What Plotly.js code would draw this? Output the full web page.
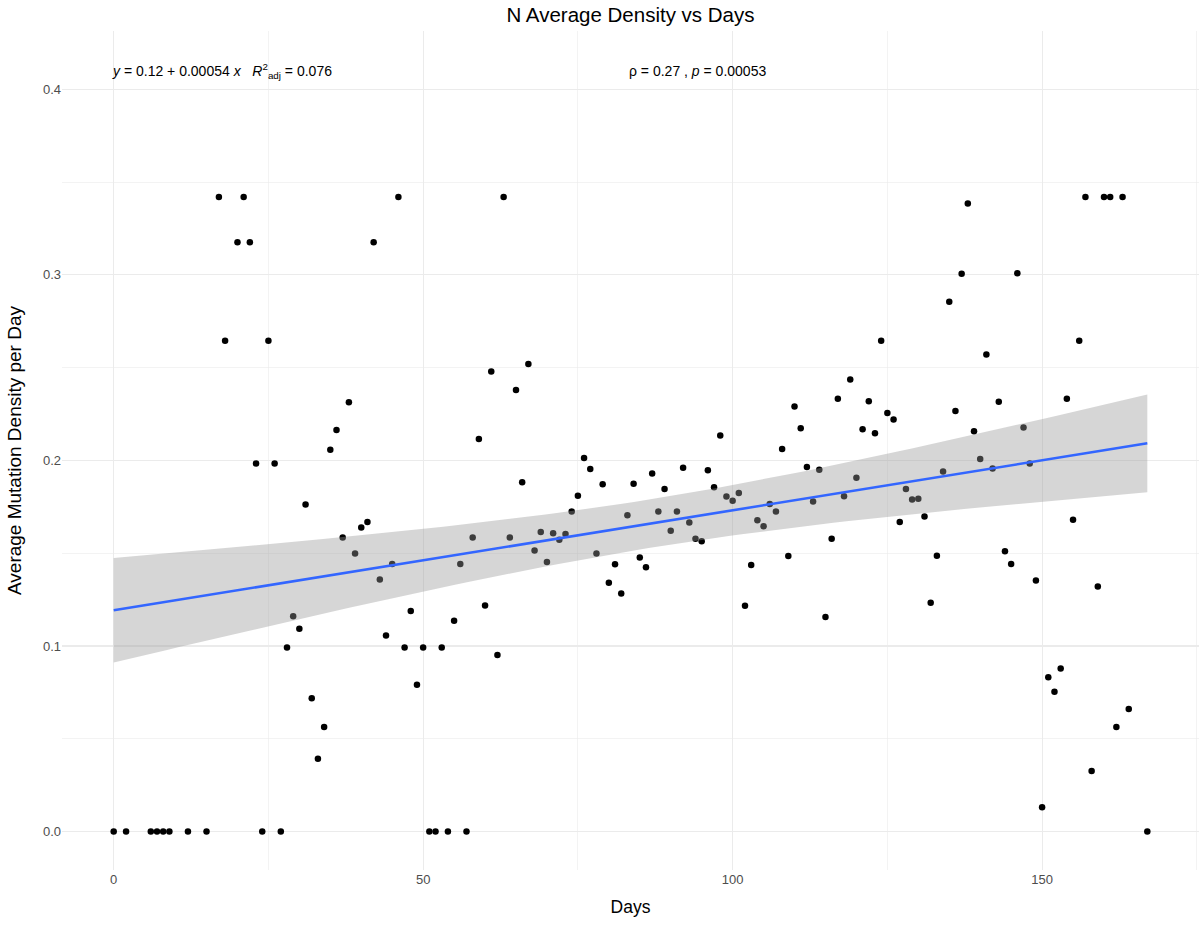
<!DOCTYPE html>
<html>
<head>
<meta charset="utf-8">
<script src="https://cdn.plot.ly/plotly-3.0.1.min.js"></script>
<style>html,body{margin:0;padding:0;background:#fff;}#chart{width:1199px;height:927px;}</style>
</head>
<body>
<div id="chart"></div>
<script>
const days = [0,2,6,7,8,9,12,15,17,18,
  20,21,22,23,24,25,26,27,28,29,30,31,32,33,34,35,36,37,38,39,40,41,42,43,44,45,46,47,48,49,
  50,51,52,53,54,55,56,57,58,59,60,61,62,63,64,65,66,67,68,69,70,71,72,73,74,75,76,77,78,79,
  80,81,82,83,84,85,86,87,88,89,90,91,92,93,94,95,96,97,98,99,100,101,102,103,104,105,106,107,108,109,
  110,111,112,113,114,115,116,117,118,119,120,121,122,123,124,125,126,127,128,129,130,131,132,133,134,135,136,137,138,139,
  140,141,142,143,144,145,146,147,148,149,150,151,152,153,154,155,156,157,158,159,160,161,162,163,164,167];

const density = [0,0,0,0,0,0,0,0,0.342,0.2645,
  0.3175,0.342,0.3175,0.1983,0,0.2645,0.1983,0,0.0992,0.116,0.1093,0.1762,0.0719,0.0393,0.0564,0.2057,0.2164,0.1585,0.2314,0.1499,0.1639,0.1668,0.3175,0.1359,0.1057,0.1442,0.342,0.0992,0.1189,0.0791,
  0.0992,0,0,0.0992,0,0.1136,0.1442,0,0.1585,0.2116,0.1218,0.2479,0.0951,0.342,0.1585,0.238,0.1882,0.252,0.1515,0.1614,0.1453,0.1607,0.1573,0.1603,0.1725,0.181,0.2013,0.1954,0.1499,0.1871,
  0.1341,0.144,0.1283,0.1704,0.1875,0.1477,0.1425,0.1929,0.1725,0.1846,0.1621,0.1725,0.1961,0.1666,0.1578,0.1564,0.1947,0.1855,0.2134,0.1806,0.1783,0.1825,0.1217,0.1436,0.1677,0.1645,0.1765,0.1725,0.2062,0.1485,
  0.229,0.2173,0.1965,0.1779,0.195,0.1156,0.1578,0.2332,0.1807,0.2436,0.1907,0.2168,0.2319,0.2146,0.2645,0.2256,0.222,0.1668,0.1846,0.179,0.1794,0.1698,0.1233,0.1487,0.194,0.2855,0.2267,0.3006,0.3385,0.2157,
  0.2008,0.2571,0.1956,0.2316,0.151,0.1442,0.3009,0.2177,0.1983,0.1353,0.0131,0.0832,0.0753,0.0879,0.2333,0.1681,0.2645,0.342,0.0327,0.1321,0.342,0.342,0.0564,0.342,0.066,0];

const xTicks = [0, 50, 100, 150];
const xMinorTicks = [25, 75, 125, 175];
const yTicks = [0, 0.1, 0.2, 0.3, 0.4];
const yMinorTicks = [0.05, 0.15, 0.25, 0.35];
const chartTitle = "N Average Density vs Days";
const xLabel = "Days";
const yLabel = "Average Mutation Density per Day";
const eqLabel = "<i>y</i> = 0.12 + 0.00054 <i>x</i>   <i>R</i><sup>2</sup><sub>adj</sub> = 0.076";
const corLabel = "ρ = 0.27 , <i>p</i> = 0.00053";

// Linear fit (least squares) with 95% confidence band, computed from the data
const n = days.length;
const xbar = days.reduce((a, b) => a + b, 0) / n;
const ybar = density.reduce((a, b) => a + b, 0) / n;
let sxx = 0, sxy = 0;
for (let i = 0; i < n; i++) { sxx += (days[i] - xbar) ** 2; sxy += (days[i] - xbar) * (density[i] - ybar); }
const slope = sxy / sxx;
const intercept = ybar - slope * xbar;
let sse = 0;
for (let i = 0; i < n; i++) { sse += (density[i] - (intercept + slope * days[i])) ** 2; }
const s = Math.sqrt(sse / (n - 2));
const tq = 1.976;
const xmin = Math.min(...days), xmax = Math.max(...days);
const fx = [], fy = [], lo = [], hi = [];
for (let k = 0; k < 80; k++) {
  const x = xmin + (xmax - xmin) * k / 79;
  const y = intercept + slope * x;
  const se = s * Math.sqrt(1 / n + (x - xbar) ** 2 / sxx);
  fx.push(x); fy.push(y); lo.push(y - tq * se); hi.push(y + tq * se);
}

const font = "Liberation Sans, Arial, Helvetica, sans-serif";

const traces = [
  { type: "scatter", mode: "markers", x: days, y: density,
    marker: { color: "#000000", size: 6.5 }, hoverinfo: "skip", showlegend: false },
  { type: "scatter", mode: "lines", x: fx.concat(fx.slice().reverse()), y: hi.concat(lo.slice().reverse()),
    fill: "toself", fillcolor: "rgba(153,153,153,0.4)", line: { width: 0 }, hoverinfo: "skip", showlegend: false },
  { type: "scatter", mode: "lines", x: fx, y: fy,
    line: { color: "#3366FF", width: 2.6 }, hoverinfo: "skip", showlegend: false }
];

const xr = xmax - xmin;
const layout = {
  width: 1199, height: 927,
  margin: { l: 62, r: 0, t: 31, b: 57 },
  paper_bgcolor: "#ffffff", plot_bgcolor: "#ffffff",
  font: { family: font, color: "#000000" },
  showlegend: false,
  title: { text: chartTitle, x: 0.5, xref: "paper", xanchor: "center", y: 1 - 15 / 927, yanchor: "middle",
    font: { family: font, size: 20.5, color: "#000000" } },
  xaxis: {
    range: [xmin - 0.05 * xr, xmax + 0.05 * xr],
    tickmode: "array", tickvals: xTicks, ticktext: xTicks.map(String), ticks: "",
    showline: false, zeroline: false,
    showgrid: true, gridcolor: "#ebebeb", gridwidth: 1.1,
    minor: { tickmode: "array", tickvals: xMinorTicks, showgrid: true, gridcolor: "#ebebeb", gridwidth: 0.6, ticks: "" },
    tickfont: { family: font, size: 13, color: "#4d4d4d" },
    title: { text: xLabel, font: { family: font, size: 17.5, color: "#000000" }, standoff: 14 },
    automargin: false
  },
  yaxis: {
    range: [-0.0207, 0.4314],
    tickmode: "array", tickvals: yTicks, ticktext: yTicks.map(v => v.toFixed(1)), ticks: "",
    showline: false, zeroline: false,
    showgrid: true, gridcolor: "#ebebeb", gridwidth: 1.1,
    minor: { tickmode: "array", tickvals: yMinorTicks, showgrid: true, gridcolor: "#ebebeb", gridwidth: 0.6, ticks: "" },
    tickfont: { family: font, size: 13, color: "#4d4d4d" },
    title: { text: yLabel, font: { family: font, size: 19, color: "#000000" }, standoff: 16 },
    automargin: false
  },
  annotations: [
    { xref: "x", yref: "y", x: xmin, y: 0.41, xanchor: "left", yanchor: "middle", xshift: -4, showarrow: false,
      text: eqLabel, font: { family: font, size: 14, color: "#000000" } },
    { xref: "x", yref: "y", x: (xmin + xmax) / 2, y: 0.41, xanchor: "left", yanchor: "middle", xshift: -4, showarrow: false,
      text: corLabel, font: { family: font, size: 14, color: "#000000" } }
  ]
};

Plotly.newPlot("chart", traces, layout, { displayModeBar: false, staticPlot: true });
</script>
</body>
</html>
